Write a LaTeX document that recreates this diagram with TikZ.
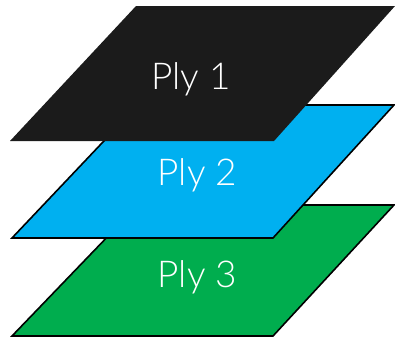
\documentclass[tikz,border=0pt]{standalone}
\usepackage{fontspec}
\newfontfamily\plyfont{Lato Light}
\definecolor{plyblack}{HTML}{1B1B1B}
\definecolor{plyblue}{HTML}{00B0F0}
\definecolor{plygreen}{HTML}{00AD4E}
\tikzset{
        ply/.style={ % outline of the lower plies
            draw=black,
            line width=1.6pt,
            line join=miter},
        ply label/.style={ % white text on each ply
            text=white,
            anchor=base,
            inner sep=0pt,
            font=\plyfont\fontsize{37}{37}\selectfont}
        }

\begin{document}
\begin{tikzpicture}[x=1pt, y=-1pt]
    \useasboundingbox (0,0) rectangle (395,340);

    % bottom ply first, the top one last so it covers the others
    \filldraw[ply, fill=plygreen] (12,336) -- (273,336) -- (394,205) -- (138,205) -- cycle;
    \filldraw[ply, fill=plyblue] (12,238) -- (273,238) -- (394,105) -- (138,105) -- cycle;
    \fill[plyblack] (10,141) -- (274,141) -- (395,6) -- (136,6) -- cycle;

    \node[ply label] (ply1) at (191,89) {Ply 1};
    \node[ply label] (ply2) at (197.5,185) {Ply 2};
    \node[ply label] (ply3) at (197.5,287) {Ply 3};
\end{tikzpicture}
\end{document}
